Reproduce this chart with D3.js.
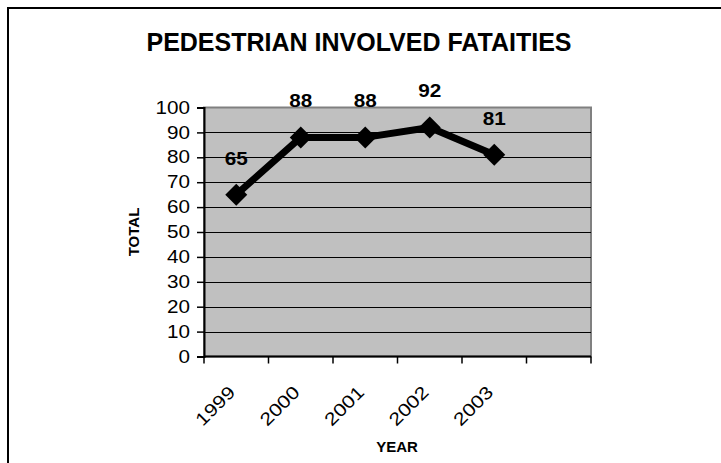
<!DOCTYPE html>
<html>
<head>
<meta charset="utf-8">
<script src="https://cdn.jsdelivr.net/npm/d3@7"></script>
<style>
  html, body { margin: 0; padding: 0; background: #fff; }
  svg { display: block; }
  text { font-family: "Liberation Sans", Arial, sans-serif; fill: #000; }
</style>
</head>
<body>
<svg id="chart" width="721" height="463"></svg>
<script>
// ---- data ----
const years = ["1999", "2000", "2001", "2002", "2003"];
const totals = [65, 88, 88, 92, 81];
const slots = ["1999", "2000", "2001", "2002", "2003", "(blank)"];
const yTicks = [0, 10, 20, 30, 40, 50, 60, 70, 80, 90, 100];
const titleText = "PEDESTRIAN INVOLVED FATAITIES";
const xTitle = "YEAR";
const yTitle = "TOTAL";

const svg = d3.select("#chart");
const W = 721, H = 463;
const plot = { left: 204, right: 591, top: 107.5, bottom: 356.5 };
const SX = 1.18; // horizontal stretch of tick/label glyphs seen in the reference

// outer border
svg.append("rect")
  .attr("x", 8).attr("y", 8)
  .attr("width", W).attr("height", H)
  .attr("fill", "#fff").attr("stroke", "#000").attr("stroke-width", 2);

const x = d3.scaleBand().domain(slots).range([plot.left, plot.right]);
const y = d3.scaleLinear().domain([0, 100]).range([plot.bottom, plot.top]);

// plot background
svg.append("rect")
  .attr("x", plot.left).attr("y", plot.top)
  .attr("width", plot.right - plot.left).attr("height", plot.bottom - plot.top)
  .attr("fill", "#c0c0c0").attr("stroke", "#808080").attr("stroke-width", 2);

// gridlines
svg.append("g").selectAll("line")
  .data(yTicks.filter(d => d > 0 && d < 100))
  .join("line")
  .attr("x1", plot.left).attr("x2", plot.right)
  .attr("y1", d => Math.round(y(d)) + 0.5).attr("y2", d => Math.round(y(d)) + 0.5)
  .attr("stroke", "#000").attr("stroke-width", 1);

// y axis
const yAxis = svg.append("g")
  .attr("transform", `translate(${plot.left},0)`)
  .call(d3.axisLeft(y).tickValues(yTicks).tickSize(7).tickPadding(7).tickFormat(d3.format("d")));
yAxis.select(".domain").attr("stroke", "#000").attr("stroke-width", 2);
yAxis.selectAll(".tick line").attr("stroke", "#000").attr("stroke-width", 1.5);
yAxis.selectAll(".tick text")
  .style("font-family", "'Liberation Sans', Arial, sans-serif")
  .style("font-size", "17.5px").attr("fill", "#000")
  .attr("x", -14 / SX)
  .attr("transform", `scale(${SX},1)`);

// x axis with ticks at band boundaries
const xAxisG = svg.append("g").attr("transform", `translate(0,${plot.bottom})`);
xAxisG.append("line")
  .attr("x1", plot.left).attr("x2", plot.right)
  .attr("y1", 0).attr("y2", 0)
  .attr("stroke", "#000").attr("stroke-width", 2);
const bounds = slots.map(s => x(s)).concat([x(slots[slots.length - 1]) + x.bandwidth()]);
xAxisG.selectAll("line.tk").data(bounds).join("line")
  .attr("class", "tk")
  .attr("x1", d => d).attr("x2", d => d)
  .attr("y1", 0).attr("y2", 7)
  .attr("stroke", "#000").attr("stroke-width", 1.5);
xAxisG.selectAll("text").data(years).join("text")
  .attr("transform", d => `translate(${x(d) + x.bandwidth() / 2},37) rotate(-45) scale(${SX},1)`)
  .attr("text-anchor", "end")
  .style("font-size", "18px")
  .text(d => d);

// line
const line = d3.line()
  .x((d, i) => x(years[i]) + x.bandwidth() / 2)
  .y(d => y(d));
svg.append("path")
  .datum(totals)
  .attr("d", line)
  .attr("fill", "none").attr("stroke", "#000")
  .attr("stroke-width", 7).attr("stroke-linejoin", "round");

// diamond markers
svg.append("g").selectAll("path")
  .data(totals)
  .join("path")
  .attr("transform", (d, i) => `translate(${x(years[i]) + x.bandwidth() / 2},${y(d)})`)
  .attr("d", "M0,-11L11,0L0,11L-11,0Z")
  .attr("fill", "#000");

// data labels
svg.append("g").selectAll("text")
  .data(totals)
  .join("text")
  .attr("transform", (d, i) => `translate(${x(years[i]) + x.bandwidth() / 2},${y(d) - 30}) scale(1.12,1)`)
  .attr("text-anchor", "middle")
  .style("font-size", "18.5px").style("font-weight", "bold")
  .text(d => d);

// title
svg.append("text")
  .attr("x", 359).attr("y", 51)
  .attr("text-anchor", "middle")
  .style("font-size", "25px").style("font-weight", "bold")
  .text(titleText);

// axis titles
svg.append("text")
  .attr("x", 397).attr("y", 452)
  .attr("text-anchor", "middle")
  .style("font-size", "15px").style("font-weight", "bold")
  .text(xTitle);
svg.append("text")
  .attr("transform", "translate(139,232) rotate(-90)")
  .attr("text-anchor", "middle")
  .style("font-size", "15px").style("font-weight", "bold")
  .text(yTitle);
</script>
</body>
</html>
